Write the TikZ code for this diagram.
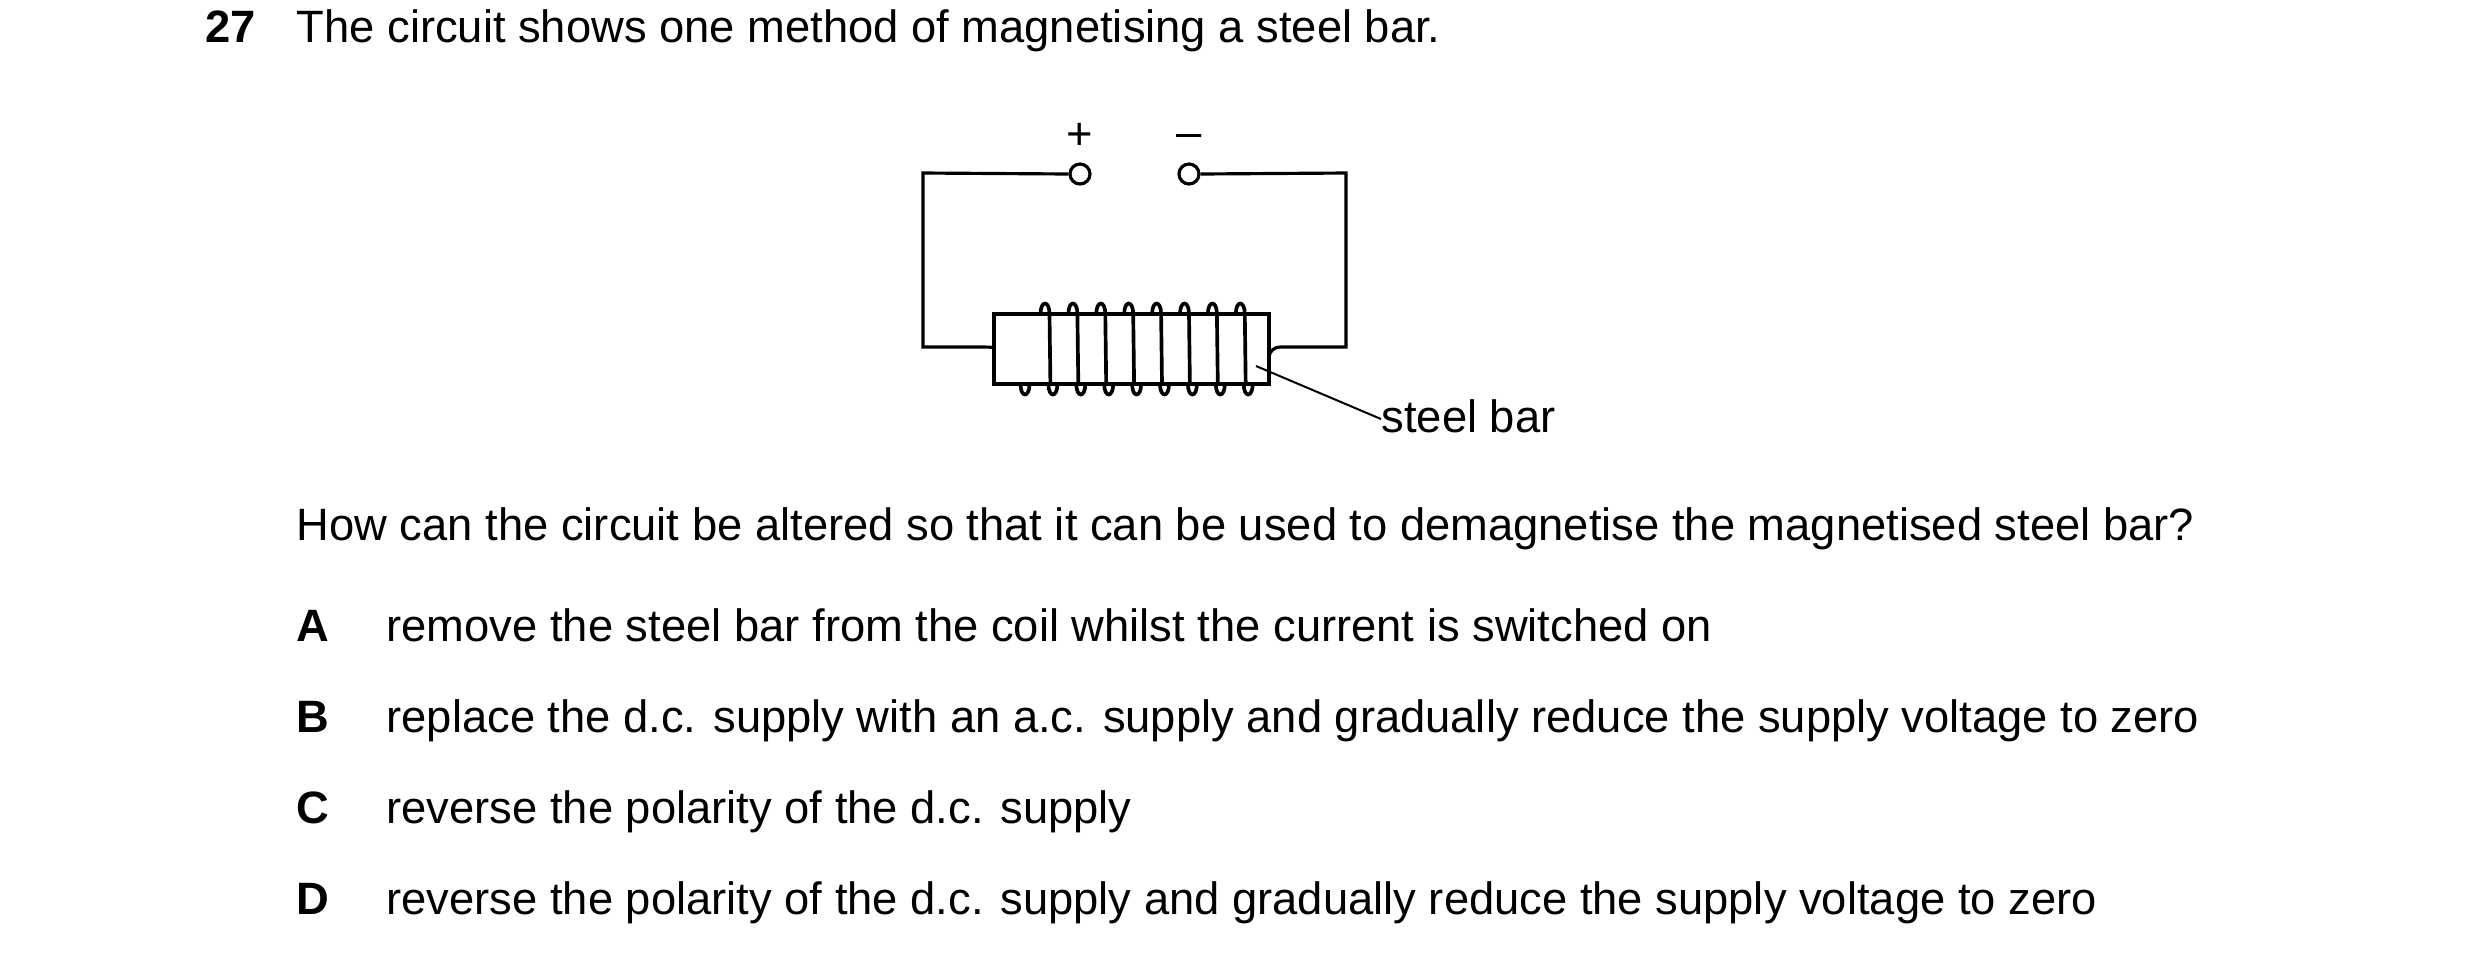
\documentclass[tikz,border=0pt]{standalone}
\usepackage{fontspec}
\setmainfont{Liberation Sans}
\begin{document}
\begin{tikzpicture}[x=0.3pt,y=-0.3pt,
  txt/.style={anchor=base west,inner sep=0pt,font=\fontsize{13.6}{16}\selectfont},
  wire/.style={line width=0.95pt},
  term/.style={circle,draw,line width=0.95pt,minimum size=6pt,inner sep=0pt,fill=white}]
\useasboundingbox (0,0) rectangle (2480,960);
\node[txt,font=\fontsize{13.6}{16}\selectfont\bfseries] (n27) at (205,42) {27};
\node[txt] (t1) at (296,42) {The circuit shows one method of magnetising a steel bar.};
% circuit
\begin{scope}[xshift=-11*0.3pt]
\node[term] (tp) at (1091,174) {};
\node[term] (tm) at (1200,174) {};
\node[inner sep=0pt,font=\fontsize{13.6}{16}\selectfont] (plus) at (1091,136) {+};
\node[inner sep=0pt,font=\fontsize{13.6}{16}\selectfont] (minus) at (1200,141) {\textendash};
\coordinate (tl) at (934,173);
\coordinate (bl) at (934,347);
\coordinate (tr) at (1357,173);
\coordinate (br) at (1357,347);
\draw[wire] (tp.west) -- (tl) -- (bl) -- (995,347) .. controls (1025,347) and (1032.5,360) .. (1032.5,384);
\draw[wire] (tm.east) -- (tr) -- (br) -- (1292,347) .. controls (1284,347) and (1280,352) .. (1280,358);
\draw[wire,fill=white] (1005,314) rectangle (1280,384);
\foreach \i in {0,...,7}{
  \pgfmathsetmacro\xt{1056+27.9*\i}
  \draw[line width=1.1pt] (\xt-4.5,314) .. controls (\xt-4.5,300) and (\xt+4.5,300) .. (\xt+4.5,314) -- (\xt+5.4,384);
}
\foreach \i in {0,...,8}{
  \pgfmathsetmacro\xb{1036+27.9*\i}
  \draw[line width=1.1pt] (\xb-4.5,384) .. controls (\xb-4.5,398) and (\xb+4.5,398) .. (\xb+4.5,384);
}
\coordinate (sbp) at (1267,366);
\draw[line width=0.6pt] (sbp) -- (1392,419);
\node[txt] (sb) at (1392,432) {steel bar};
\end{scope}
% question
\node[txt] (q) at (296,540) {How can the circuit be altered so that it can be used to demagnetise the magnetised steel bar?};
\foreach \l/\y/\t in {A/641/remove the steel bar from the coil whilst the current is switched on,
  B/732/replace the d.c. supply with an a.c. supply and gradually reduce the supply voltage to zero,
  C/823/reverse the polarity of the d.c. supply,
  D/914/reverse the polarity of the d.c. supply and gradually reduce the supply voltage to zero}{
  \node[txt,font=\fontsize{13.6}{16}\selectfont\bfseries] (l\l) at (296,\y) {\l};
  \node[txt] (o\l) at (386,\y) {\t};
}
\end{tikzpicture}
\end{document}
